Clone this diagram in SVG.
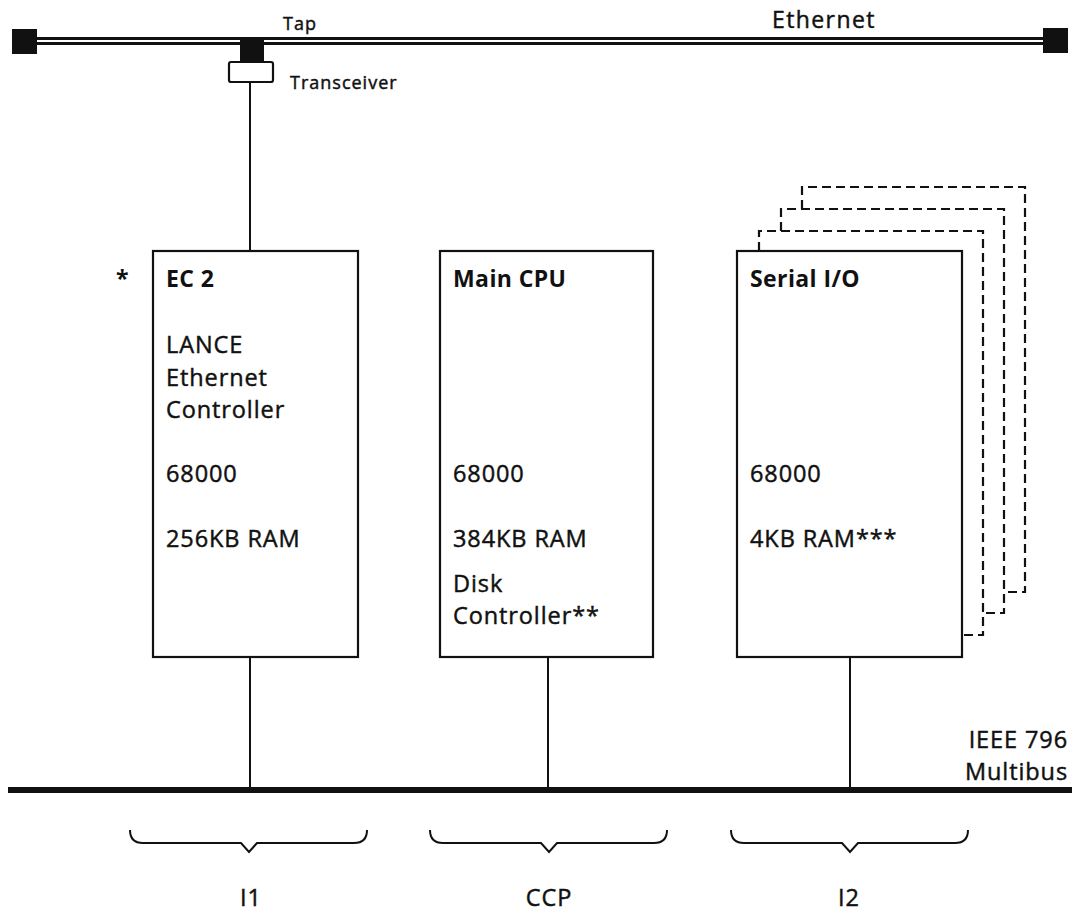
<svg xmlns="http://www.w3.org/2000/svg" width="1076" height="911" viewBox="0 0 1076 911">
<style>
text{font-family:"Open Sans","Noto Sans","Liberation Sans",sans-serif;fill:#111;stroke:#111;stroke-width:0.45}
.t{font-size:23.5px;letter-spacing:0.9px}
.b{font-size:23px;font-weight:bold;letter-spacing:0.4px;stroke-width:0}
.s{font-size:18px;letter-spacing:1px}
.e{font-size:23px;letter-spacing:1.4px}
.box{fill:#fff;stroke:#111;stroke-width:2.2}
.dash{fill:none;stroke:#111;stroke-width:2.2;stroke-dasharray:9 5}
.ln{stroke:#111;stroke-width:2;fill:none}
.br{stroke:#111;stroke-width:2;fill:none}
</style>
<g id="ethernet">
<rect x="35" y="37" width="1010" height="8" fill="#111"/>
<rect x="35" y="40" width="1010" height="2" fill="#fff"/>
<rect x="12" y="29" width="25" height="25" fill="#111"/>
<rect x="1043" y="28" width="25" height="25" fill="#111"/>
<text class="e" x="772" y="28">Ethernet</text>
</g>
<g id="tap">
<rect x="240" y="37" width="24" height="25" fill="#111"/>
<text class="s" x="283" y="30">Tap</text>
</g>
<g id="transceiver">
<rect x="229" y="62" width="44" height="20" rx="2" class="box"/>
<text class="s" x="290" y="89">Transceiver</text>
</g>
<g id="connectors">
<line x1="250" y1="82" x2="250" y2="251" class="ln"/>
<line x1="250" y1="657" x2="250" y2="790" class="ln"/>
<line x1="548" y1="657" x2="548" y2="790" class="ln"/>
<line x1="850" y1="657" x2="850" y2="790" class="ln"/>
</g>
<g id="multibus">
<rect x="8" y="787" width="1064" height="6" fill="#111"/>
<text class="t" x="1068" y="748" text-anchor="end">IEEE 796</text>
<text class="t" x="1068" y="780" text-anchor="end">Multibus</text>
</g>
<g id="ec2">
<text class="b" x="116" y="287">*</text>
<rect x="153" y="251" width="205" height="406" class="box"/>
<text class="b" x="166" y="287">EC 2</text>
<text class="t" x="166" y="353">LANCE</text>
<text class="t" x="166" y="386">Ethernet</text>
<text class="t" x="166" y="418">Controller</text>
<text class="t" x="166" y="482">68000</text>
<text class="t" x="166" y="547">256KB RAM</text>
</g>
<g id="maincpu">
<rect x="440" y="251" width="213" height="406" class="box"/>
<text class="b" x="453" y="287">Main CPU</text>
<text class="t" x="453" y="482">68000</text>
<text class="t" x="453" y="547">384KB RAM</text>
<text class="t" x="453" y="592">Disk</text>
<text class="t" x="453" y="624">Controller**</text>
</g>
<g id="serialio">
<path class="dash" d="M802 209 V187 H1025 V592 H1004"/>
<path class="dash" d="M781 231 V209 H1004 V613 H983"/>
<path class="dash" d="M759 251 V231 H983 V635 H962"/>
<rect x="737" y="251" width="225" height="406" class="box"/>
<text class="b" x="750" y="287">Serial I/O</text>
<text class="t" x="750" y="482">68000</text>
<text class="t" x="750" y="547">4KB RAM***</text>
</g>
<g id="i1">
<path class="br" d="M130 830 Q130 843 143 843 H241 L249 852 L257 843 H354 Q367 843 367 830"/>
<text class="t" x="251" y="906" text-anchor="middle">I1</text>
</g>
<g id="ccp">
<path class="br" d="M430 830 Q430 843 443 843 H541 L549 852 L557 843 H654 Q667 843 667 830"/>
<text class="t" x="549" y="906" text-anchor="middle">CCP</text>
</g>
<g id="i2">
<path class="br" d="M731 830 Q731 843 744 843 H842 L850 852 L858 843 H955 Q968 843 968 830"/>
<text class="t" x="849" y="906" text-anchor="middle">I2</text>
</g>
</svg>
